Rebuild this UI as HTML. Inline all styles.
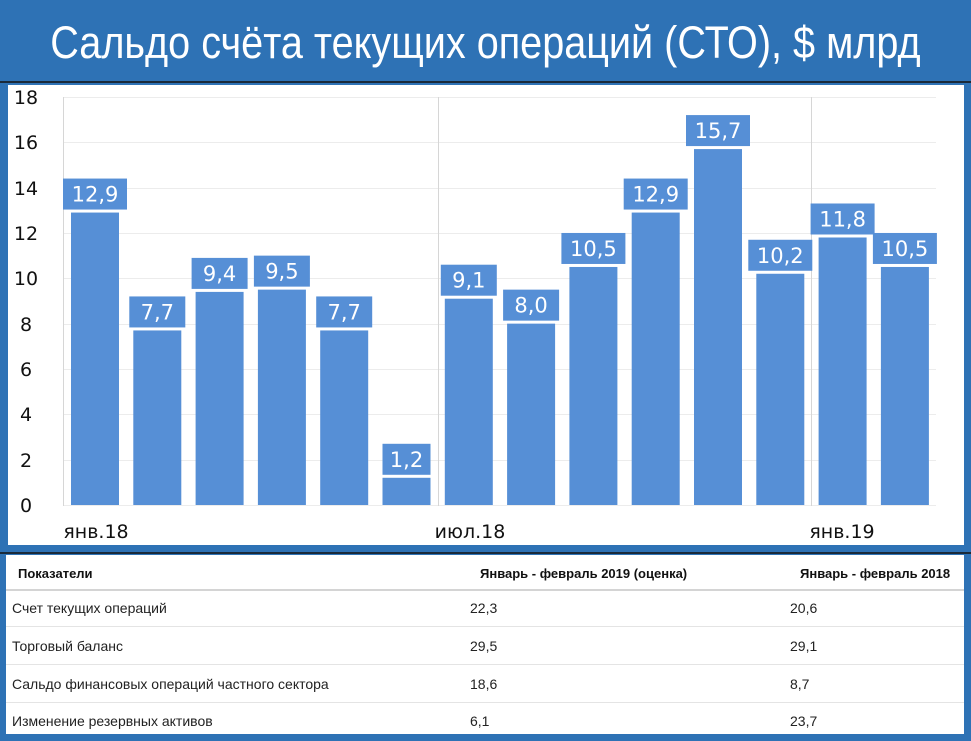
<!DOCTYPE html>
<html><head><meta charset="utf-8"><style>
body{margin:0;width:971px;height:741px;background:#2e72b5;position:relative;overflow:hidden;font-family:"Liberation Sans",sans-serif}
.title{position:absolute;left:-100px;top:0;width:1171px;height:82px;line-height:86px;text-align:center;white-space:nowrap;color:#fff;font-family:"Liberation Sans Narrow","Liberation Sans",sans-serif;font-size:45px;transform:scaleX(0.88);transform-origin:585px 0}
.line{position:absolute;left:0;width:971px;height:2px;background:#1a2a3a}
.tbl{position:absolute;left:6px;top:555px;width:958px;height:179px;background:#fff;font-size:14px;color:#222}
.tbl div{position:absolute}
.hd{font-weight:bold;font-size:13px;color:#111}
.sep{left:0;width:958px;height:1px;background:#e4e4e4}
</style></head><body>
<div class="title">Сальдо счёта текущих операций (СТО), $ млрд</div>
<div class="line" style="top:81px"></div>
<svg style="position:absolute;left:0;top:0" width="971" height="741">
<rect x="8" y="85" width="956" height="460" fill="#fff"/>
<g stroke="#ececec" stroke-width="1">
<line x1="63" x2="936" y1="97.5" y2="97.5"/><line x1="63" x2="936" y1="142.5" y2="142.5"/><line x1="63" x2="936" y1="188.5" y2="188.5"/><line x1="63" x2="936" y1="233.5" y2="233.5"/><line x1="63" x2="936" y1="278.5" y2="278.5"/><line x1="63" x2="936" y1="324.5" y2="324.5"/><line x1="63" x2="936" y1="369.5" y2="369.5"/><line x1="63" x2="936" y1="414.5" y2="414.5"/><line x1="63" x2="936" y1="460.5" y2="460.5"/><line x1="63" x2="936" y1="505.5" y2="505.5"/>
</g>
<g stroke="#d6d6d6"><line x1="63.5" x2="63.5" y1="97" y2="506"/><line x1="438.5" x2="438.5" y1="97" y2="506"/><line x1="811.5" x2="811.5" y1="97" y2="506"/></g>
<g font-family="DejaVu Sans,sans-serif" font-size="19" fill="#111" text-anchor="middle">
<text x="26" y="104">18</text><text x="26" y="149">16</text><text x="26" y="195">14</text><text x="26" y="240">12</text><text x="26" y="285">10</text><text x="26" y="331">8</text><text x="26" y="376">6</text><text x="26" y="421">4</text><text x="26" y="467">2</text><text x="26" y="512">0</text>
<text x="96" y="538">янв.18</text><text x="470" y="538">июл.18</text><text x="842" y="538">янв.19</text>
</g>
<g id="bars" fill="#568fd6"></g>
<g id="lbl" font-family="DejaVu Sans,sans-serif" font-size="21" fill="#fff" text-anchor="middle"></g>
</svg>
<div class="line" style="top:552px"></div>
<div class="tbl">
<div class="hd" style="left:12px;top:11px">Показатели</div>
<div class="hd" style="left:474px;top:11px">Январь - февраль 2019 (оценка)</div>
<div class="hd" style="left:794px;top:11px">Январь - февраль 2018</div>
<div class="sep" style="top:34px;height:2px;background:#d4d4d4"></div>
<div style="left:6px;top:45px">Счет текущих операций</div><div style="left:464px;top:45px">22,3</div><div style="left:784px;top:45px">20,6</div>
<div class="sep" style="top:71px"></div>
<div style="left:6px;top:83px">Торговый баланс</div><div style="left:464px;top:83px">29,5</div><div style="left:784px;top:83px">29,1</div>
<div class="sep" style="top:109px"></div>
<div style="left:6px;top:121px">Сальдо финансовых операций частного сектора</div><div style="left:464px;top:121px">18,6</div><div style="left:784px;top:121px">8,7</div>
<div class="sep" style="top:147px"></div>
<div style="left:6px;top:158px">Изменение резервных активов</div><div style="left:464px;top:158px">6,1</div><div style="left:784px;top:158px">23,7</div>
</div>
<script>
var v=[12.9,7.7,9.4,9.5,7.7,1.2,9.1,8.0,10.5,12.9,15.7,10.2,11.8,10.5];
var b='',l='';
v.forEach(function(d,i){var x=71+i*62.3,top=505-d*22.67;
b+='<rect x="'+x+'" y="'+top+'" width="48" height="'+(505-top)+'"/>';
var w=d<10?(d<2?48:56):64,bx=x+24-w/2,by=top-34;
b+='<rect x="'+bx+'" y="'+by+'" width="'+w+'" height="31"/>';
l+='<text x="'+(x+24)+'" y="'+(by+23)+'">'+d.toFixed(1).replace('.',',')+'</text>';});
document.getElementById('bars').innerHTML=b;document.getElementById('lbl').innerHTML=l;
</script>
</body></html>
